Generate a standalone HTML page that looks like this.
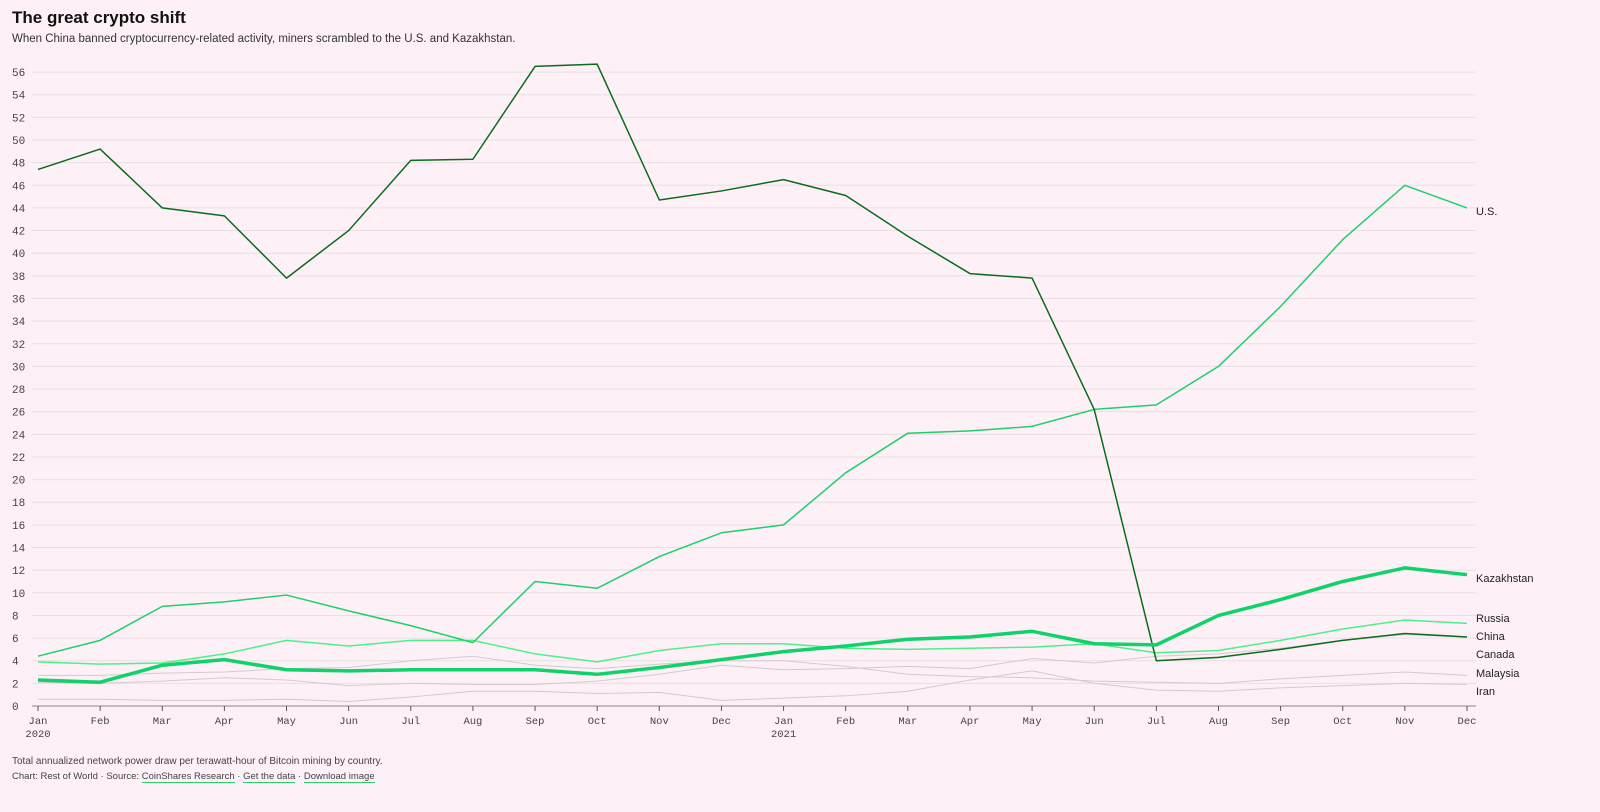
<!DOCTYPE html>
<html><head><meta charset="utf-8"><style>
body{margin:0;background:#fdf1f7;width:1600px;height:812px;overflow:hidden;font-family:"Liberation Sans",sans-serif;color:#222}
.t{position:absolute;left:12px;top:8px;font-size:17px;font-weight:bold;color:#111}
.s{position:absolute;left:12px;top:33px;font-size:11.5px;color:#333}
.f1{position:absolute;left:12px;top:756px;font-size:10px;color:#444}
.f2{position:absolute;left:12px;top:771px;font-size:9.5px;color:#444}
.f2 u{text-decoration:none;border-bottom:1px solid #2bcf6c}
svg{position:absolute;left:0;top:0}
</style></head><body>
<div class="t">The great crypto shift</div>
<div class="s">When China banned cryptocurrency-related activity, miners scrambled to the U.S. and Kazakhstan.</div>
<svg id="c" width="1600" height="812"></svg>
<div class="f1">Total annualized network power draw per terawatt-hour of Bitcoin mining by country.</div>
<div class="f2">Chart: Rest of World · Source: <u>CoinShares Research</u> · <u>Get the data</u> · <u>Download image</u></div>
<script>
const s=document.getElementById('c'),NS='http://www.w3.org/2000/svg';
const X=i=>38+i*62.13,Y=v=>706-v*11.32;
let h='';
for(let v=0;v<=56;v+=2){h+=`<line x1="32" x2="1476" y1="${Y(v)}" y2="${Y(v)}" stroke="${v?'#e8dfe4':'#888'}" stroke-width="1"/>`;
h+=`<text x="12" y="${Y(v)+4}" font-family="Liberation Mono,monospace" font-size="11" fill="#444">${v}</text>`;}
const m=['Jan','Feb','Mar','Apr','May','Jun','Jul','Aug','Sep','Oct','Nov','Dec'];
for(let i=0;i<24;i++){h+=`<line x1="${X(i)}" x2="${X(i)}" y1="706" y2="711" stroke="#555"/>`;
h+=`<text x="${X(i)}" y="724" text-anchor="middle" font-family="Liberation Mono,monospace" font-size="10.5" fill="#444">${m[i%12]}</text>`;}
h+=`<text x="${X(0)}" y="737" text-anchor="middle" font-family="Liberation Mono,monospace" font-size="10.5" fill="#444">2020</text>`;
h+=`<text x="${X(12)}" y="737" text-anchor="middle" font-family="Liberation Mono,monospace" font-size="10.5" fill="#444">2021</text>`;
const D=[
['#d3cace',1,[0.6,0.6,0.5,0.5,0.6,0.4,0.8,1.3,1.3,1.1,1.2,0.5,0.7,0.9,1.3,2.3,3.1,2.0,1.4,1.3,1.6,1.8,2.0,1.9]],
['#d3cace',1,[2.7,2.7,2.9,3.0,3.3,3.4,4.0,4.4,3.6,3.3,3.7,4.0,4.0,3.5,2.8,2.6,2.5,2.2,2.1,2.0,2.4,2.7,3.0,2.7]],
['#d3cace',1,[2.1,2.0,2.2,2.5,2.3,1.8,2.0,1.9,1.9,2.2,2.8,3.6,3.2,3.3,3.5,3.3,4.2,3.8,4.4,4.6,5.1,5.8,6.3,6.1]],
['#4ef08a',1.5,[3.9,3.7,3.8,4.6,5.8,5.3,5.8,5.8,4.6,3.9,4.9,5.5,5.5,5.1,5.0,5.1,5.2,5.5,4.7,4.9,5.8,6.8,7.6,7.3]],
['#1fcf6c',1.5,[4.4,5.8,8.8,9.2,9.8,8.4,7.1,5.6,11,10.4,13.2,15.3,16,20.6,24.1,24.3,24.7,26.2,26.6,30,35.3,41.2,46,44]],
['#0b6b1d',1.5,[47.4,49.2,44,43.3,37.8,42,48.2,48.3,56.5,56.7,44.7,45.5,46.5,45.1,41.5,38.2,37.8,26.2,4,4.3,5,5.8,6.4,6.1]],
['#0fd36a',3.5,[2.3,2.1,3.6,4.1,3.2,3.1,3.2,3.2,3.2,2.8,3.4,4.1,4.8,5.3,5.9,6.1,6.6,5.5,5.4,8,9.4,11,12.2,11.6]]];
for(const [c,w,d] of D)h+=`<polyline fill="none" stroke="${c}" stroke-width="${w}" stroke-linejoin="round" points="${d.map((v,i)=>X(i)+','+Y(v)).join(' ')}"/>`;
[['U.S.',215],['Kazakhstan',582],['Russia',622],['China',640],['Canada',658],['Malaysia',677],['Iran',695]].forEach(([t,y])=>h+=`<text x="1476" y="${y}" font-size="11" fill="#222">${t}</text>`);
s.innerHTML=h;
</script>
</body></html>
